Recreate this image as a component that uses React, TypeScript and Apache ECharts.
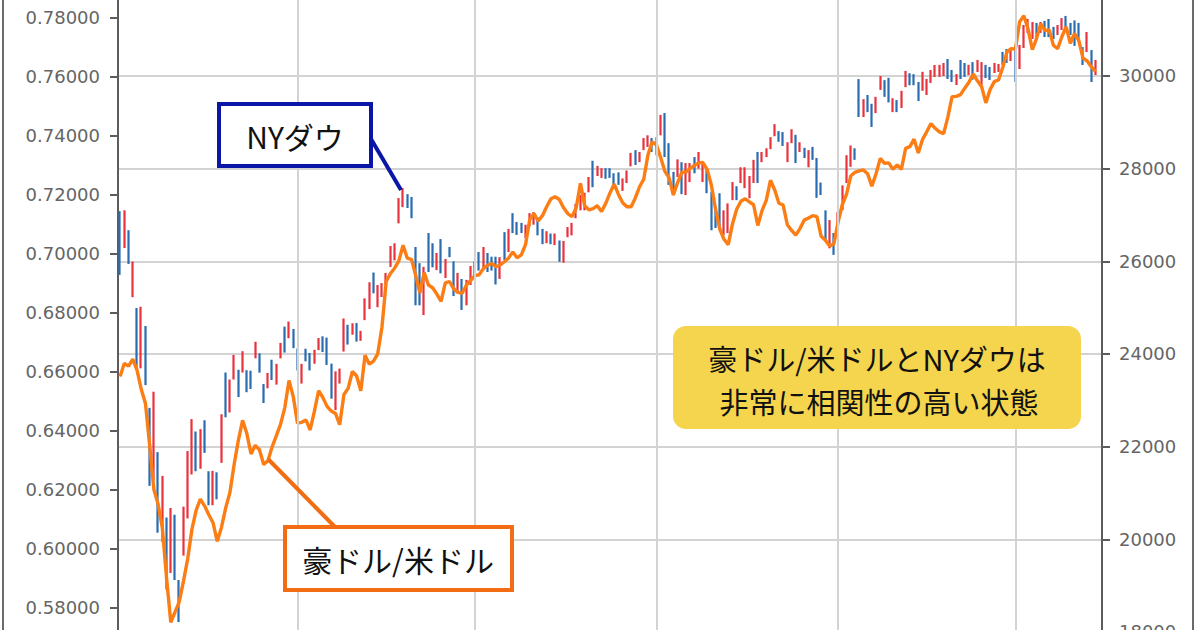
import React, { useEffect, useRef } from "react";
import * as echarts from "echarts";

// ---- Trading days (NY Dow daily bars, Mar 2020 - Feb 2021) ----
const marDays = [3, 4, 5, 6, 9, 10, 11, 12, 13, 16, 17, 18, 19, 20, 23, 24, 25, 26, 27, 30, 31];
const aprDays = [1, 2, 3, 6, 7, 8, 9, 13, 14, 15, 16, 17, 20, 21, 22, 23, 24, 27, 28, 29, 30];
const mayDays = [1, 4, 5, 6, 7, 8, 11, 12, 13, 14, 15, 18, 19, 20, 21, 22, 26, 27, 28, 29];
const junDays = [1, 2, 3, 4, 5, 8, 9, 10, 11, 12, 15, 16, 17, 18, 19, 22, 23, 24, 25, 26, 29, 30];
const julDays = [1, 2, 6, 7, 8, 9, 10, 13, 14, 15, 16, 17, 20, 21, 22, 23, 24, 27, 28, 29, 30, 31];
const augDays = [3, 4, 5, 6, 7, 10, 11, 12, 13, 14, 17, 18, 19, 20, 21, 24, 25, 26, 27, 28, 31];
const sepDays = [1, 2, 3, 4, 8, 9, 10, 11, 14, 15, 16, 17, 18, 21, 22, 23, 24, 25, 28, 29, 30];
const octDays = [1, 2, 5, 6, 7, 8, 9, 12, 13, 14, 15, 16, 19, 20, 21, 22, 23, 26, 27, 28, 29, 30];
const novDays = [2, 3, 4, 5, 6, 9, 10, 11, 12, 13, 16, 17, 18, 19, 20, 23, 24, 25, 27, 30];
const decDays = [1, 2, 3, 4, 7, 8, 9, 10, 11, 14, 15, 16, 17, 18, 21, 22, 23, 24, 28, 29, 30, 31];
const janDays = [4, 5, 6, 7, 8, 11, 12, 13, 14, 15, 19, 20, 21, 22, 25, 26, 27, 28, 29];
const febDays = [1];

// ---- NY Dow bars: [open, close, low, high] ----
const dowMar = [
  [26762, 25917, 25706, 27084], [26383, 27091, 26286, 27102], [26671, 26121, 25943, 26671],
  [25458, 25865, 25226, 25995], [24992, 23851, 23706, 24992], [24453, 25018, 23690, 25020],
  [24604, 23553, 23328, 24604], [22184, 21200, 21154, 22837], [21973, 23185, 21285, 23186],
  [20917, 20189, 20143, 21882], [20337, 21237, 19940, 21369], [20470, 19899, 18917, 20470],
  [19734, 20087, 19274, 20677], [20253, 19174, 19122, 20531], [19028, 18592, 18214, 19121],
  [19723, 20705, 19649, 20705], [20729, 21200, 20450, 21905], [21469, 22552, 21400, 22595],
  [21898, 21637, 21469, 22327], [21678, 22327, 21523, 22378], [22200, 21917, 21866, 22570],
];
const dowApr = [
  [21227, 20944, 20735, 21470], [20819, 21413, 20736, 21477], [21285, 21053, 20863, 21447],
  [21693, 22680, 21650, 22700], [23300, 22654, 22634, 23600], [22870, 23434, 22738, 23449],
  [23600, 23720, 23450, 23980], [23540, 23390, 23070, 23660], [23680, 23950, 23600, 24060],
  [23602, 23505, 23175, 23650], [23612, 23538, 23244, 23638], [24000, 24242, 23906, 24264],
  [24015, 23650, 23597, 24015], [23351, 23018, 22941, 23351], [23260, 23475, 23260, 23590],
  [23550, 23515, 23438, 23876], [23553, 23775, 23339, 23788], [23961, 24134, 23905, 24240],
  [24376, 24101, 24030, 24591], [24340, 24634, 24340, 24700], [24520, 24346, 24126, 24540],
];
const dowMay = [
  [24120, 23724, 23645, 24120], [23571, 23750, 23361, 23787], [23999, 23883, 23842, 24113],
  [23980, 23664, 23645, 24023], [23810, 23875, 23789, 24091], [24083, 24331, 24083, 24345],
  [24300, 24222, 24041, 24381], [24300, 23764, 23764, 24354], [23758, 23248, 23035, 23792],
  [23177, 23625, 22790, 23625], [23398, 23685, 23361, 23685], [24052, 24597, 24052, 24766],
  [24566, 24207, 24203, 24630], [24415, 24576, 24415, 24663], [24541, 24474, 24267, 24669],
  [24432, 24465, 24283, 24500], [24800, 24995, 24730, 25200], [25120, 25548, 24970, 25548],
  [25600, 25401, 25310, 25758], [25300, 25383, 25010, 25490],
];
const dowJun = [
  [25342, 25475, 25230, 25530], [25600, 25743, 25490, 25750], [25968, 26270, 25880, 26330],
  [26240, 26282, 26020, 26390], [26900, 27111, 26820, 27365], [27232, 27572, 27170, 27580],
  [27447, 27272, 27150, 27450], [27251, 26990, 26930, 27390], [26300, 25128, 25050, 26310],
  [25659, 25606, 25050, 25960], [25340, 25763, 24840, 25880], [26400, 26290, 25770, 26610],
  [26300, 26120, 25870, 26390], [26010, 26080, 25810, 26180], [26226, 25871, 25740, 26480],
  [25838, 26025, 25640, 26050], [26250, 26156, 26090, 26310], [26000, 25446, 25250, 26000],
  [25400, 25746, 25310, 25750], [25600, 25016, 24950, 25620], [25150, 25596, 25050, 25600],
  [25600, 25813, 25490, 25900],
];
const dowJul = [
  [25880, 25735, 25680, 26000], [26100, 25827, 25800, 26200], [26000, 26287, 25810, 26310],
  [26150, 25890, 25770, 26180], [26080, 26067, 25800, 26100], [26100, 25706, 25500, 26100],
  [25700, 26075, 25620, 26090], [26200, 26086, 26030, 26630], [26250, 26643, 26200, 26700],
  [27000, 26870, 26610, 27040], [26800, 26735, 26570, 26850], [26780, 26672, 26610, 26830],
  [26600, 26681, 26500, 26790], [26800, 26840, 26760, 27040], [26850, 27006, 26790, 27060],
  [26950, 26652, 26560, 26950], [26600, 26470, 26370, 26700], [26450, 26585, 26390, 26650],
  [26560, 26379, 26370, 26600], [26400, 26540, 26350, 26600], [26450, 26314, 25990, 26450],
  [26250, 26428, 25970, 26440],
];
const dowAug = [
  [26550, 26664, 26520, 26740], [26600, 26828, 26560, 26830], [26950, 27202, 26930, 27240],
  [27200, 27387, 27100, 27430], [27250, 27433, 27100, 27480], [27500, 27791, 27490, 27820],
  [28000, 27687, 27600, 28170], [27850, 27977, 27840, 28060], [27850, 27897, 27800, 28010],
  [27960, 27931, 27780, 28010], [27990, 27845, 27800, 28010], [27900, 27778, 27630, 27900],
  [27850, 27693, 27650, 27920], [27550, 27740, 27520, 27790], [27750, 27930, 27690, 27960],
  [28100, 28308, 28050, 28340], [28400, 28248, 28080, 28400], [28250, 28332, 28140, 28360],
  [28400, 28492, 28400, 28660], [28550, 28654, 28470, 28720], [28600, 28430, 28360, 28660],
];
const dowSep = [
  [28440, 28646, 28290, 28680], [28750, 29100, 28720, 29160], [29100, 28293, 28250, 29200],
  [28300, 28133, 27650, 28550], [27800, 27501, 27430, 27930], [27830, 27940, 27820, 28200],
  [28000, 27535, 27450, 28140], [27500, 27666, 27430, 28120], [27800, 27993, 27710, 28120],
  [28200, 27996, 27900, 28250], [28000, 28032, 28000, 28360], [27720, 27902, 27710, 28120],
  [27900, 27657, 27470, 27970], [27400, 27148, 26670, 27500], [27160, 26950, 26720, 27170],
  [27450, 26763, 26720, 27470], [26700, 26815, 26560, 27100], [26800, 27174, 26610, 27250],
  [27400, 27584, 27320, 27710], [27600, 27453, 27320, 27620], [27700, 27782, 27690, 28030],
];
const dowOct = [
  [27600, 27817, 27580, 28030], [27400, 27683, 27360, 27840], [27800, 28149, 27690, 28190],
  [28200, 27773, 27690, 28360], [28150, 28303, 28140, 28360], [28350, 28425, 28250, 28440],
  [28450, 28587, 28420, 28680], [28720, 28838, 28700, 28960], [28800, 28680, 28580, 28810],
  [28750, 28514, 28490, 28790], [28200, 28494, 28140, 28570], [28560, 28606, 28550, 28850],
  [28700, 28195, 28120, 28730], [28380, 28460, 28360, 28570], [28440, 28350, 28230, 28450],
  [28100, 28364, 28030, 28400], [28400, 28336, 28190, 28470], [28200, 27685, 27370, 28230],
  [27700, 27463, 27430, 27700], [27100, 26520, 26460, 27100], [26450, 26659, 26280, 26890],
  [26550, 26502, 26140, 26610],
];
const dowNov = [
  [26700, 26925, 26610, 27060], [27110, 27480, 27105, 27640], [27700, 27848, 27690, 28290],
  [28100, 28390, 28040, 28500], [28400, 28323, 28190, 28440], [29900, 29158, 29115, 29933],
  [29200, 29421, 29115, 29500], [29500, 29398, 29220, 29590], [29390, 29080, 28900, 29400],
  [29210, 29480, 29200, 29550], [29700, 29950, 29700, 30000], [29900, 29783, 29550, 29910],
  [29860, 29438, 29430, 29960], [29270, 29483, 29220, 29520], [29450, 29263, 29220, 29480],
  [29320, 29591, 29310, 29680], [29800, 30046, 29760, 30110], [30050, 29872, 29800, 30060],
  [30000, 29910, 29800, 30040], [29870, 29639, 29460, 29870],
];
const dowDec = [
  [29700, 29950, 29680, 30090], [29650, 29884, 29590, 29935], [29880, 29970, 29850, 30130],
  [30000, 30218, 29980, 30238], [30030, 30069, 29980, 30240], [30000, 30174, 30000, 30280],
  [30300, 30069, 29935, 30367], [30100, 29999, 29870, 30130], [29850, 30000, 29805, 30040],
  [30300, 29950, 29935, 30346], [30250, 30100, 29980, 30280], [30050, 30155, 30020, 30240],
  [30300, 30180, 29920, 30300], [30150, 30300, 30086, 30346], [29900, 30216, 29762, 30300],
  [30200, 30016, 29957, 30240], [30190, 30050, 29914, 30195], [30100, 30199, 30065, 30280],
  [30150, 30250, 30086, 30260], [30500, 30336, 30240, 30520], [30450, 30410, 30280, 30583],
  [30400, 30560, 30324, 30583],
];
const dowJan = [
  [30627, 30224, 29870, 30670], [30200, 30392, 30150, 30670], [30620, 30829, 30605, 31100],
  [30940, 31041, 30930, 31230], [30850, 31098, 30800, 31166], [31100, 31009, 30778, 31145],
  [30950, 31069, 30930, 31166], [31150, 31060, 30842, 31190], [31150, 30992, 30842, 31230],
  [31000, 30814, 30800, 31060], [30900, 30931, 30886, 31100], [31000, 31188, 30994, 31250],
  [31250, 31176, 31058, 31296], [31100, 30997, 30886, 31145], [31050, 30960, 30650, 31200],
  [31100, 30937, 30734, 31145], [30620, 30303, 30238, 30626], [30550, 30800, 30518, 30950],
  [30560, 29983, 29870, 30560],
];
const dowFeb = [[30030, 30212, 30020, 30346]];

// ---- AUD/USD daily closes ----
const audMar = [0.6583, 0.6628, 0.6618, 0.6642, 0.6605, 0.654, 0.6492, 0.635, 0.62, 0.615, 0.607, 0.59, 0.575, 0.5785, 0.582, 0.589, 0.5965, 0.6065, 0.613, 0.6168, 0.6145];
const audApr = [0.6115, 0.6088, 0.6025, 0.6072, 0.6138, 0.619, 0.6285, 0.6367, 0.6435, 0.639, 0.6321, 0.635, 0.6335, 0.6285, 0.6298, 0.6345, 0.6383, 0.6422, 0.6478, 0.657, 0.6515];
const audMay = [0.6425, 0.6428, 0.6436, 0.6402, 0.6465, 0.6535, 0.6512, 0.6482, 0.6466, 0.6458, 0.642, 0.6522, 0.6543, 0.66, 0.6585, 0.6535, 0.6655, 0.6625, 0.6635, 0.666];
const audJun = [0.675, 0.6905, 0.6932, 0.695, 0.6975, 0.7028, 0.6984, 0.698, 0.6925, 0.6866, 0.6935, 0.6893, 0.6884, 0.6862, 0.6838, 0.69, 0.6905, 0.688, 0.6868, 0.6865, 0.6893, 0.6908];
const audJul = [0.6925, 0.6928, 0.6948, 0.696, 0.6966, 0.6955, 0.6961, 0.6972, 0.6985, 0.7005, 0.6985, 0.6995, 0.703, 0.7115, 0.7135, 0.711, 0.7128, 0.7158, 0.7185, 0.7192, 0.7183, 0.7155];
const audAug = [0.7135, 0.7125, 0.7155, 0.7238, 0.7162, 0.7148, 0.7152, 0.7162, 0.7142, 0.717, 0.7205, 0.7235, 0.72, 0.7172, 0.7158, 0.7158, 0.7188, 0.7226, 0.7252, 0.7335, 0.7378];
const audSep = [0.7368, 0.7325, 0.7278, 0.7256, 0.7198, 0.724, 0.7275, 0.7276, 0.7288, 0.7298, 0.7307, 0.7308, 0.7285, 0.7232, 0.715, 0.7082, 0.7048, 0.703, 0.71, 0.715, 0.7177];
const audOct = [0.7185, 0.7175, 0.7165, 0.7095, 0.7145, 0.718, 0.7248, 0.7215, 0.717, 0.7164, 0.7097, 0.7078, 0.7062, 0.7085, 0.7113, 0.712, 0.7128, 0.7125, 0.7058, 0.7045, 0.7025, 0.7032];
const audNov = [0.7105, 0.7165, 0.72, 0.7262, 0.7275, 0.728, 0.7283, 0.727, 0.7228, 0.727, 0.7322, 0.7305, 0.7307, 0.7285, 0.73, 0.7285, 0.7356, 0.7362, 0.7387, 0.734];
const audDec = [0.7386, 0.7412, 0.744, 0.7424, 0.7412, 0.7406, 0.7462, 0.7531, 0.7532, 0.7538, 0.756, 0.758, 0.7608, 0.7585, 0.7565, 0.751, 0.7555, 0.7582, 0.7588, 0.763, 0.7683, 0.7694];
const audJan = [0.7692, 0.7785, 0.7805, 0.776, 0.769, 0.7728, 0.7778, 0.7755, 0.7757, 0.7705, 0.7694, 0.7734, 0.7768, 0.7712, 0.7745, 0.7722, 0.7662, 0.7652, 0.7632];
const audFeb = [0.7616];

// ---- Axis ticks ----
const audTicks = [0.58, 0.6, 0.62, 0.64, 0.66, 0.68, 0.7, 0.72, 0.74, 0.76, 0.78];
const dowTicks = [18000, 20000, 22000, 24000, 26000, 28000, 30000];
const gridMonths = ["2020-05-01", "2020-07-01", "2020-09-01", "2020-11-02", "2021-01-04"];
const padCategory = "2021-02-02";

// ---- Texts ----
const dowLabel = "NYダウ";
const audLabel = "豪ドル/米ドル";
const noteLine1 = "豪ドル/米ドルとNYダウは";
const noteLine2 = "非常に相関性の高い状態";

const months = [
  { ym: "2020-03", days: marDays, dow: dowMar, aud: audMar },
  { ym: "2020-04", days: aprDays, dow: dowApr, aud: audApr },
  { ym: "2020-05", days: mayDays, dow: dowMay, aud: audMay },
  { ym: "2020-06", days: junDays, dow: dowJun, aud: audJun },
  { ym: "2020-07", days: julDays, dow: dowJul, aud: audJul },
  { ym: "2020-08", days: augDays, dow: dowAug, aud: audAug },
  { ym: "2020-09", days: sepDays, dow: dowSep, aud: audSep },
  { ym: "2020-10", days: octDays, dow: dowOct, aud: audOct },
  { ym: "2020-11", days: novDays, dow: dowNov, aud: audNov },
  { ym: "2020-12", days: decDays, dow: dowDec, aud: audDec },
  { ym: "2021-01", days: janDays, dow: dowJan, aud: audJan },
  { ym: "2021-02", days: febDays, dow: dowFeb, aud: audFeb },
];

const RED = "#e8323c";
const BLUE = "#2b6cb0";
const ORANGE = "#fb7d14";
const BOX_ORANGE = "#f26c12";
const NAVY = "#0b16a8";
const CJK = '"Noto Sans CJK JP", "Noto Sans", sans-serif';

export default function App() {
  const ref = useRef<HTMLDivElement>(null);

  useEffect(() => {
    if (!ref.current) return;
    document.body.style.overflow = "hidden";
    const chart = echarts.init(ref.current, undefined, { renderer: "svg" });

    const categories: string[] = [];
    const dowData: number[][] = [];
    const audData: number[] = [];
    months.forEach((m) =>
      m.days.forEach((d, i) => {
        categories.push(`${m.ym}-${String(d).padStart(2, "0")}`);
        dowData.push(m.dow[i]);
        audData.push(m.aud[i]);
      })
    );
    categories.push(padCategory);

    const axisGray = "#5c5c5c";
    const labelGray = "#656565";

    const option: any = {
      animation: false,
      backgroundColor: "#ffffff",
      grid: { left: 118, right: 98, top: 0, bottom: 0, containLabel: false, outerBoundsMode: "none" },
      xAxis: {
        type: "category",
        data: categories,
        boundaryGap: true,
        axisLine: { show: false },
        axisTick: { show: false },
        axisLabel: { show: false },
        splitLine: { show: false },
      },
      yAxis: [
        {
          type: "value",
          position: "left",
          min: 0.54873,
          max: 0.785861,
          axisLine: { show: true, lineStyle: { color: axisGray, width: 2 } },
          axisTick: { show: true, length: 8, lineStyle: { color: axisGray, width: 2 }, customValues: audTicks },
          axisLabel: {
            customValues: audTicks,
            formatter: (v: number) => v.toFixed(5),
            color: labelGray,
            fontSize: 18,
            fontFamily: "DejaVu Sans",
            margin: 18,
          },
          splitLine: { show: false },
        },
        {
          type: "value",
          position: "right",
          min: 16532,
          max: 31640,
          axisLine: { show: true, lineStyle: { color: axisGray, width: 2 } },
          axisTick: { show: true, length: 8, lineStyle: { color: axisGray, width: 2 }, customValues: dowTicks },
          axisLabel: {
            customValues: dowTicks,
            formatter: (v: number) => String(Math.round(v)),
            color: labelGray,
            fontSize: 18,
            fontFamily: "DejaVu Sans",
            margin: 17,
          },
          splitLine: { show: true, lineStyle: { color: "#d3d3d3", width: 2 } },
        },
      ],
      series: [
        {
          type: "line",
          name: "grid",
          data: [],
          z: 1,
          silent: true,
          markLine: {
            silent: true,
            symbol: ["none", "none"],
            label: { show: false },
            lineStyle: { color: "#d3d3d3", width: 2, type: "solid" },
            emphasis: { disabled: true },
            data: gridMonths.map((d) => ({ xAxis: d })),
          },
        },
        {
          type: "candlestick",
          name: "NYダウ",
          yAxisIndex: 1,
          data: dowData,
          barWidth: 0.4,
          z: 2,
          silent: true,
          itemStyle: {
            color: RED,
            color0: BLUE,
            borderColor: RED,
            borderColor0: BLUE,
            borderWidth: 2.2,
          },
        },
        {
          type: "line",
          name: "豪ドル/米ドル",
          yAxisIndex: 0,
          data: audData,
          symbol: "none",
          z: 3,
          silent: true,
          lineStyle: { color: ORANGE, width: 3.4 },
        },
      ],
      graphic: [
        { type: "line", z: 100, shape: { x1: 3, y1: 0, x2: 3, y2: 630 }, style: { stroke: "#6a6a6a", lineWidth: 2 } },
        { type: "line", z: 100, shape: { x1: 1193, y1: 0, x2: 1193, y2: 630 }, style: { stroke: "#6a6a6a", lineWidth: 2 } },
        // NY Dow callout
        { type: "line", z: 100, shape: { x1: 371, y1: 139, x2: 401, y2: 190 }, style: { stroke: NAVY, lineWidth: 4 } },
        { type: "rect", z: 101, shape: { x: 219, y: 104, width: 152, height: 62 }, style: { fill: "#ffffff", stroke: NAVY, lineWidth: 4 } },
        {
          type: "text", z: 102, x: 295, y: 136,
          style: { text: dowLabel, fill: "#111111", fontSize: 30, fontFamily: CJK, align: "center", verticalAlign: "middle", textAlign: "center", textVerticalAlign: "middle" },
        },
        // AUD/USD callout
        { type: "line", z: 100, shape: { x1: 268, y1: 459, x2: 335, y2: 527 }, style: { stroke: BOX_ORANGE, lineWidth: 4 } },
        { type: "rect", z: 101, shape: { x: 285, y: 527, width: 227, height: 63 }, style: { fill: "#ffffff", stroke: BOX_ORANGE, lineWidth: 4 } },
        {
          type: "text", z: 102, x: 398, y: 559,
          style: { text: audLabel, fill: "#111111", fontSize: 30, fontFamily: CJK, align: "center", verticalAlign: "middle", textAlign: "center", textVerticalAlign: "middle" },
        },
        // Yellow note
        { type: "rect", z: 101, shape: { x: 673, y: 326, width: 408, height: 103, r: 13 }, style: { fill: "#f5d54e" } },
        {
          type: "text", z: 102, x: 877, y: 358,
          style: { text: noteLine1, fill: "#111111", fontSize: 29, fontFamily: CJK, align: "center", verticalAlign: "middle", textAlign: "center", textVerticalAlign: "middle" },
        },
        {
          type: "text", z: 102, x: 879, y: 401,
          style: { text: noteLine2, fill: "#111111", fontSize: 29, fontFamily: CJK, align: "center", verticalAlign: "middle", textAlign: "center", textVerticalAlign: "middle" },
        },
      ],
    };

    chart.setOption(option);
    return () => {
      chart.dispose();
    };
  }, []);

  return (
    <div
      ref={ref}
      style={{ position: "fixed", left: 0, top: 0, width: 1200, height: 700, background: "#ffffff" }}
    />
  );
}
